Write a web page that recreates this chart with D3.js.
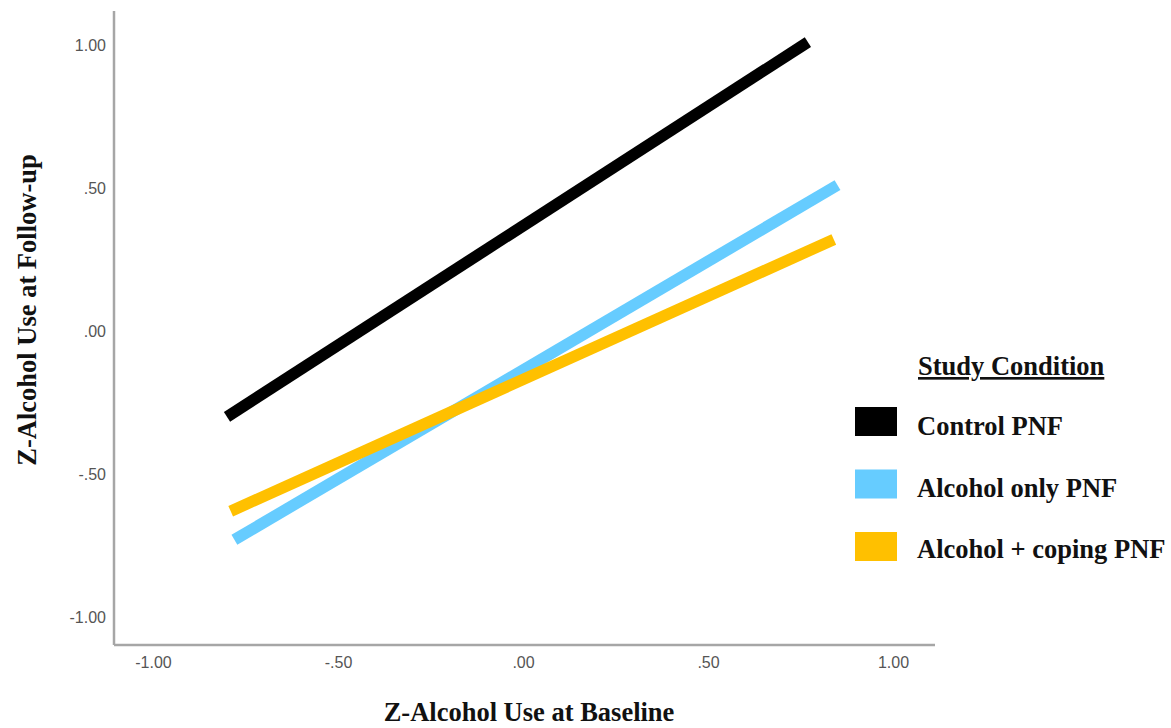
<!DOCTYPE html>
<html>
<head>
<meta charset="utf-8">
<script src="https://cdn.jsdelivr.net/npm/d3@7"></script>
<style>
  body { margin: 0; background: white; }
  .tick text { font-family: Arial, "Liberation Sans", sans-serif; fill: #555; }
</style>
</head>
<body>
<svg id="vis"></svg>
<script>
// chart data
const groups = ["Control PNF", "Alcohol only PNF", "Alcohol + coping PNF"]
const colors = ["#000000", "#66ccff", "#ffc000"]
const xStart = [-0.80, -0.78, -0.79]
const xEnd = [0.77, 0.85, 0.84]
const yStart = [-0.30, -0.73, -0.63]
const yEnd = [1.01, 0.51, 0.32]
const xTicks = [-1, -0.5, 0, 0.5, 1]
const yTicks = [-1, -0.5, 0, 0.5, 1]
const tickLabels = ["-1.00", "-.50", ".00", ".50", "1.00"]

const W = 1171, H = 728
const AXIS_X = 114, AXIS_Y = 645

var svg = d3.select('#vis')
    .attr('width', W)
    .attr('height', H)

var x = d3.scaleLinear().domain([-1, 1]).range([153, 893])
var y = d3.scaleLinear().domain([-1, 1]).range([617, 45])

// axis lines (frame is longer than tick range)
svg.append('line')
    .attr('x1', AXIS_X).attr('y1', 11)
    .attr('x2', AXIS_X).attr('y2', AXIS_Y)
    .attr('stroke', '#a6a6a6').attr('stroke-width', 2.5)
svg.append('line')
    .attr('x1', AXIS_X).attr('y1', AXIS_Y)
    .attr('x2', 935).attr('y2', AXIS_Y)
    .attr('stroke', '#a6a6a6').attr('stroke-width', 2.5)

// tick labels
var xAxis = svg.append('g')
    .attr('transform', `translate(0,${AXIS_Y})`)
    .call(d3.axisBottom(x).tickValues(xTicks).tickSize(0).tickPadding(12)
        .tickFormat((d, i) => tickLabels[i]))
xAxis.select('.domain').remove()
xAxis.selectAll('text').attr('font-size', 16)

var yAxis = svg.append('g')
    .attr('transform', `translate(${AXIS_X},0)`)
    .call(d3.axisLeft(y).tickValues(yTicks).tickSize(0).tickPadding(8)
        .tickFormat((d, i) => tickLabels[i]))
yAxis.select('.domain').remove()
yAxis.selectAll('text').attr('font-size', 16)

// regression lines
groups.forEach(function(g, i) {
    svg.append('line')
        .attr('x1', x(xStart[i])).attr('y1', y(yStart[i]))
        .attr('x2', x(xEnd[i])).attr('y2', y(yEnd[i]))
        .attr('stroke', colors[i])
        .attr('stroke-width', 11.5)
        .attr('stroke-linecap', 'butt')
})

// axis titles
const serif = '"Liberation Serif", "Times New Roman", serif'
svg.append('text')
    .attr('x', 529).attr('y', 721)
    .attr('text-anchor', 'middle')
    .attr('font-family', serif).attr('font-weight', 'bold').attr('font-size', 26.5)
    .attr('fill', '#111')
    .text('Z-Alcohol Use at Baseline')

svg.append('text')
    .attr('transform', 'translate(36,310) rotate(-90)')
    .attr('text-anchor', 'middle')
    .attr('font-family', serif).attr('font-weight', 'bold').attr('font-size', 26.5)
    .attr('fill', '#111')
    .text('Z-Alcohol Use at Follow-up')

// legend
svg.append('text')
    .attr('x', 918).attr('y', 375)
    .attr('font-family', serif).attr('font-weight', 'bold').attr('font-size', 26.5)
    .attr('text-decoration', 'underline')
    .attr('fill', '#111')
    .text('Study Condition')

groups.forEach(function(g, i) {
    svg.append('rect')
        .attr('x', 855).attr('y', 407 + i * 62.5)
        .attr('width', 42).attr('height', 29)
        .attr('fill', colors[i])
    svg.append('text')
        .attr('x', 917).attr('y', 435 + i * 61.5)
        .attr('font-family', serif).attr('font-weight', 'bold').attr('font-size', 26.5)
        .attr('fill', '#111')
        .text(g)
})
</script>
</body>
</html>
